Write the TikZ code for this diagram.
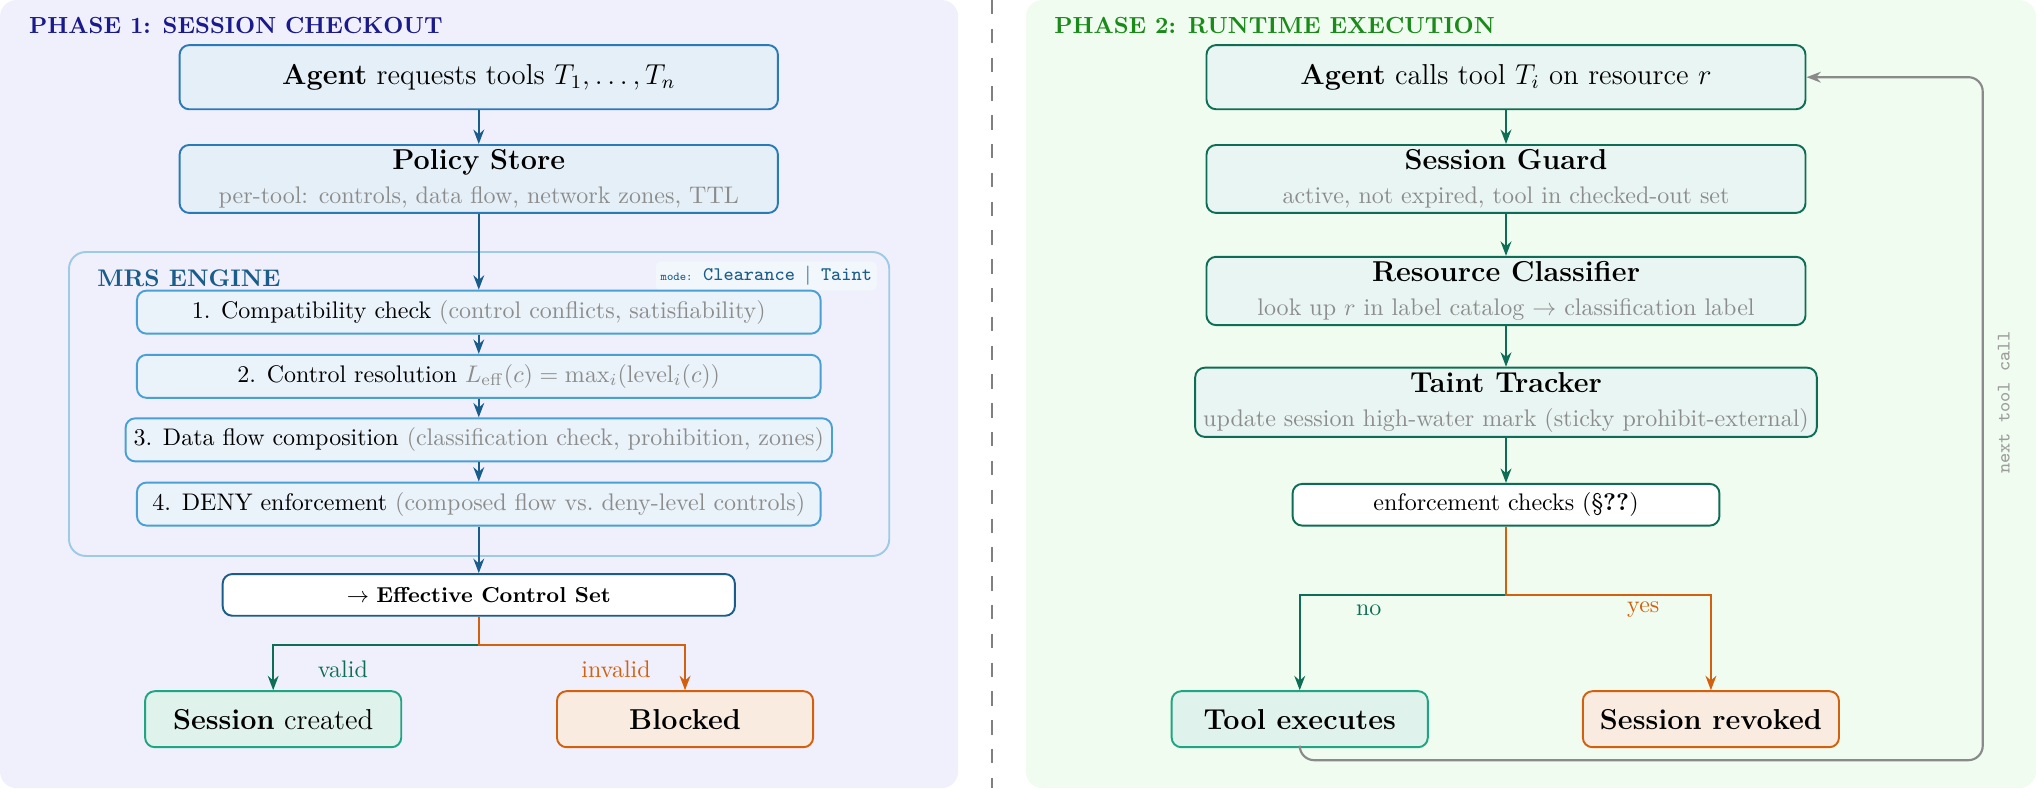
\documentclass[tikz,border=0pt]{standalone}
\usepackage{xcolor}
\definecolor{CheckoutBg}{HTML}{F0F0FC}
\definecolor{RuntimeBg}{HTML}{F0FCF0}
\definecolor{CheckoutTitle}{HTML}{1A1A8C}
\definecolor{RuntimeTitle}{HTML}{1A8A1A}
\definecolor{SteelBlue}{HTML}{2A7AB8}
\definecolor{SteelFill}{HTML}{E4EFF7}
\definecolor{DeepBlue}{HTML}{1A5C8A}
\definecolor{SkyBlue}{HTML}{4A9FD4}
\definecolor{SkyFill}{HTML}{EAF2FA}
\definecolor{EngineEdge}{HTML}{9ECAE4}
\definecolor{PineGreen}{HTML}{0E6E55}
\definecolor{MintFill}{HTML}{E8F5F2}
\definecolor{TealEdge}{HTML}{1FA582}
\definecolor{TealFill}{HTML}{DFF2EC}
\definecolor{BurntOrange}{HTML}{D2600E}
\definecolor{PeachFill}{HTML}{FAEBE0}
\definecolor{NoteGray}{HTML}{8C8C8C}
\definecolor{LoopGray}{HTML}{8A8A8A}
\usepackage{amsmath}
\usepackage{tikz}
\usetikzlibrary{arrows.meta, positioning}

\newcommand{\note}[1]{{\normalsize\color{NoteGray}#1}}

\begin{document}
\begin{tikzpicture}[
  box/.style={draw, rounded corners=4pt, line width=0.8pt, align=center, inner ysep=2pt},
  bluebox/.style={box, draw=SteelBlue, fill=SteelFill, font=\large, minimum width=8.76cm, minimum height=0.94cm},
  stepbox/.style={box, draw=SkyBlue, fill=SkyFill, minimum width=10.01cm, minimum height=0.63cm},
  greenbox/.style={box, draw=PineGreen, fill=MintFill, font=\large, minimum width=8.77cm, minimum height=0.94cm},
  goodbox/.style={box, draw=TealEdge, fill=TealFill, font=\large, minimum width=3.75cm, minimum height=0.82cm},
  badbox/.style={box, draw=BurntOrange, fill=PeachFill, font=\large, minimum width=3.75cm, minimum height=0.82cm},
  phasetitle/.style={anchor=west, inner xsep=0pt, font=\fontsize{9.7}{11}\selectfont\bfseries},
  arr/.style={-{Stealth[length=6pt, width=4.5pt]}, line width=0.9pt},
]
  \useasboundingbox (0,0) rectangle (29.81,-11.54);

  % panels
  \fill[CheckoutBg, rounded corners=7pt] (0,0) rectangle (14.03,-11.54);
  \fill[RuntimeBg, rounded corners=7pt] (15.02,0) rectangle (29.81,-11.54);
  \draw[gray, dashed, line width=1pt, dash pattern=on 6pt off 6pt] (14.52,0) -- (14.52,-11.54);

  \node[phasetitle, text=CheckoutTitle] (t1) at (0.42,-0.38) {PHASE 1: SESSION CHECKOUT};
  \node[phasetitle, text=RuntimeTitle] (t2) at (15.43,-0.38) {PHASE 2: RUNTIME EXECUTION};

  % phase 1
  \node[bluebox] (agent) at (7.01,-1.13) {\textbf{Agent} requests tools $T_1,\ldots,T_n$};
  \node[bluebox] (policy) at (7.01,-2.62) {\textbf{Policy Store}\\\note{per-tool: controls, data flow, network zones, TTL}};

  \draw[EngineEdge, line width=0.8pt, rounded corners=7pt] (1.01,-3.69) rectangle (13.02,-8.14);
  \node[anchor=west, inner xsep=0pt, font=\bfseries, text=DeepBlue] (mrs) at (1.42,-4.08) {MRS ENGINE};
  \node[fill=white!40!SkyFill, rounded corners=2pt, inner sep=2pt, text=DeepBlue] (mode) at (11.22,-4.04)
    {{\tiny\ttfamily mode:} {\footnotesize\ttfamily Clearance $|$ Taint}};

  \node[stepbox] (s1) at (7.01,-4.57) {1. Compatibility check \note{(control conflicts, satisfiability)}};
  \node[stepbox] (s2) at (7.01,-5.51) {2. Control resolution \note{$L_{\mathrm{eff}}(c) = \max_i(\mathrm{level}_i(c))$}};
  \node[stepbox] (s3) at (7.01,-6.44) {3. Data flow composition \note{(classification check, prohibition, zones)}};
  \node[stepbox] (s4) at (7.01,-7.38) {4. DENY enforcement \note{(composed flow vs.\ deny-level controls)}};

  \node[box, draw=DeepBlue, fill=white, font=\small, minimum width=7.5cm, minimum height=0.61cm] (ecs) at (7.01,-8.71)
    {$\rightarrow$ \textbf{Effective Control Set}};

  \node[goodbox] (created) at (4.00,-10.53) {\textbf{Session} created};
  \node[badbox] (blocked) at (10.03,-10.53) {\textbf{Blocked}};

  \draw[arr, DeepBlue] (agent) -- (policy);
  \draw[arr, DeepBlue] (policy) -- (s1);
  \draw[arr, DeepBlue] (s1) -- (s2);
  \draw[arr, DeepBlue] (s2) -- (s3);
  \draw[arr, DeepBlue] (s3) -- (s4);
  \draw[arr, DeepBlue] (s4) -- (ecs);

  \coordinate (split1) at (7.01,-9.44);
  \draw[arr, PineGreen] (ecs.south) -- (split1) -| (created.north);
  \draw[arr, BurntOrange] (ecs.south) -- (split1) -| (blocked.north);
  \node[text=PineGreen] (valid) at (5.02,-9.80) {valid};
  \node[text=BurntOrange] (invalid) at (9.02,-9.80) {invalid};

  % phase 2
  \node[greenbox] (call) at (22.05,-1.13) {\textbf{Agent} calls tool $T_i$ on resource $r$};
  \node[greenbox] (guard) at (22.05,-2.62) {\textbf{Session Guard}\\\note{active, not expired, tool in checked-out set}};
  \node[greenbox] (classifier) at (22.05,-4.26) {\textbf{Resource Classifier}\\\note{look up $r$ in label catalog $\rightarrow$ classification label}};
  \node[greenbox] (taint) at (22.05,-5.89) {\textbf{Taint Tracker}\\\note{update session high-water mark (sticky prohibit-external)}};
  \node[box, draw=PineGreen, fill=white, minimum width=6.25cm, minimum height=0.61cm] (enforce) at (22.05,-7.39)
    {enforcement checks (\S\textbf{??})};

  \node[goodbox] (executes) at (19.03,-10.53) {\textbf{Tool executes}};
  \node[badbox] (revoked) at (25.05,-10.53) {\textbf{Session revoked}};

  \draw[arr, PineGreen] (call) -- (guard);
  \draw[arr, PineGreen] (guard) -- (classifier);
  \draw[arr, PineGreen] (classifier) -- (taint);
  \draw[arr, PineGreen] (taint) -- (enforce);

  \coordinate (split2) at (22.05,-8.71);
  \draw[arr, PineGreen] (enforce.south) -- (split2) -| (executes.north);
  \draw[arr, BurntOrange] (enforce.south) -- (split2) -| (revoked.north);
  \node[text=PineGreen] (no) at (20.04,-8.93) {no};
  \node[text=BurntOrange] (yes) at (24.06,-8.92) {yes};

  % loop back
  \coordinate (loop) at (29.03,-11.13);
  \draw[arr, LoopGray, rounded corners=6pt] (executes.south) |- (loop) |- (call.east);
  \node[rotate=90, font=\footnotesize\ttfamily, text=NoteGray!85] (next) at (29.34,-5.89) {next tool call};
\end{tikzpicture}
\end{document}
